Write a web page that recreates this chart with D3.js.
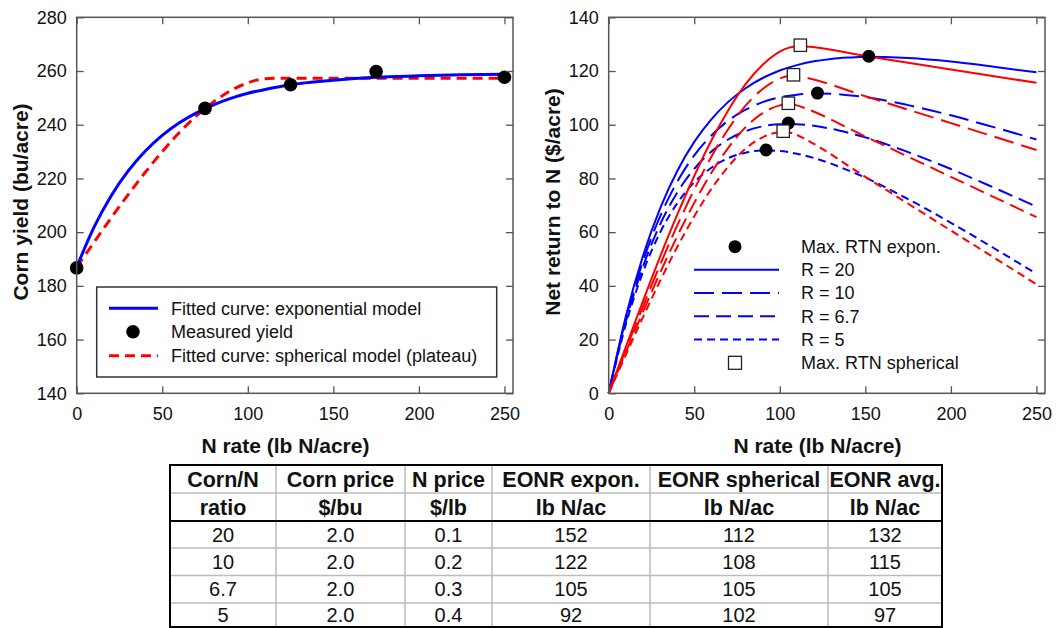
<!DOCTYPE html>
<meta charset="utf-8">
<script src="https://d3js.org/d3.v7.min.js"></script>
<style>
    body { margin: 0; background: #fff; }
    svg { display: block; font-family: "Liberation Sans", Arial, sans-serif; }
    .axis path { display: none; }
    .axis line { stroke: #555; stroke-width: 1.3; }
    .axis text { font-size: 18px; fill: #111; }
    .title { font-size: 21px; font-weight: bold; fill: #111; }
    .leg { font-size: 18px; fill: #111; }
</style>
<body>
<svg width="1061" height="628"></svg>

<script>
    // left panel: measured yield and the two fitted curves
    const nMeasured = [0, 75, 125, 175, 250];
    const yieldMeasured = [186.7, 246.1, 254.9, 259.8, 257.7];

    const nExp = [0, 10, 20, 30, 40, 50, 60, 70, 80, 90, 100, 110, 120, 130, 140, 150, 175, 200, 225, 250];
    const yieldExp = [187, 201.7, 213.4, 222.7, 230.1, 236.0, 240.7, 244.4, 247.4, 249.8, 251.7, 253.1, 254.3, 255.3, 256.0, 256.6, 257.7, 258.2, 258.6, 258.8];

    const nSph = [0, 10, 20, 30, 40, 50, 60, 70, 80, 90, 100, 105, 110, 115, 150, 200, 250];
    const yieldSph = [187, 196.1, 205.2, 213.9, 222.2, 230.0, 237.1, 243.3, 248.5, 252.7, 255.6, 256.6, 257.1, 257.3, 257.3, 257.3, 257.3];

    // right panel: net return to N, exponential model
    const rtnExp20 = [0, 28.6, 51.1, 68.8, 82.7, 93.6, 102.0, 108.6, 113.6, 117.4, 120.2, 122.2, 123.6, 124.5, 125.0, 125.3, 124.8, 123.5, 121.6, 119.5];
    const rtnExp10 = [0, 27.6, 49.1, 65.8, 78.7, 88.6, 96.0, 101.6, 105.6, 108.4, 110.2, 111.2, 111.6, 111.5, 111.0, 110.3, 107.3, 103.5, 99.1, 94.5];
    const rtnExp67 = [0, 26.6, 47.1, 62.8, 74.7, 83.6, 90.0, 94.6, 97.6, 99.4, 100.2, 100.2, 99.6, 98.5, 97.0, 95.3, 89.8, 83.5, 76.6, 69.5];
    const rtnExp5 = [0, 25.6, 45.1, 59.8, 70.7, 78.6, 84.0, 87.6, 89.6, 90.4, 90.2, 89.2, 87.6, 85.5, 83.0, 80.3, 72.3, 63.5, 54.1, 44.5];

    // right panel: net return to N, spherical model
    const rtnSph20 = [0, 17.3, 34.3, 50.8, 66.4, 80.9, 94.1, 105.5, 115.1, 122.3, 127.2, 128.6, 129.2, 129.1, 125.6, 120.6, 115.6];
    const rtnSph10 = [0, 16.3, 32.3, 47.8, 62.4, 75.9, 88.1, 98.5, 107.1, 113.3, 117.2, 118.1, 118.2, 117.6, 110.6, 100.6, 90.6];
    const rtnSph67 = [0, 15.3, 30.3, 44.8, 58.4, 70.9, 82.1, 91.5, 99.1, 104.3, 107.2, 107.6, 107.2, 106.1, 95.6, 80.6, 65.6];
    const rtnSph5 = [0, 14.3, 28.3, 41.8, 54.4, 65.9, 76.1, 84.5, 91.1, 95.3, 97.2, 97.1, 96.2, 94.6, 80.6, 60.6, 40.6];

    // maxima
    const eonrExp = [152, 122, 105, 92];
    const maxRtnExp = [125.5, 111.8, 100.6, 90.6];
    const eonrSph = [112, 108, 105, 102];
    const maxRtnSph = [129.6, 118.6, 108.0, 97.6];

    // table
    const ratioLabels = ['20', '10', '6.7', '5'];
    const cornPrice = ['2.0', '2.0', '2.0', '2.0'];
    const nPrice = ['0.1', '0.2', '0.3', '0.4'];
    const eonrAvg = [132, 115, 105, 97];
    const headTop = ['Corn/N', 'Corn price', 'N price', 'EONR expon.', 'EONR spherical', 'EONR avg.'];
    const headBottom = ['ratio', '$/bu', '$/lb', 'lb N/ac', 'lb N/ac', 'lb N/ac'];

    const xTicks = [0, 50, 100, 150, 200, 250];

    const svg = d3.select('svg');

    function frame(x, y, yTicks, yTitle, yTitleX) {
        const [xa, xb] = x.range(), [yb, ya] = y.range();
        svg.append('g').attr('class', 'axis')
            .attr('transform', 'translate(0,' + yb + ')')
            .call(d3.axisBottom(x).tickValues(xTicks).tickSizeInner(-7).tickSizeOuter(0).tickPadding(14));
        svg.append('g').attr('class', 'axis')
            .attr('transform', 'translate(0,' + ya + ')')
            .call(d3.axisTop(x).tickValues(xTicks).tickSizeInner(-7).tickSizeOuter(0).tickFormat(''));
        svg.append('g').attr('class', 'axis')
            .attr('transform', 'translate(' + xa + ',0)')
            .call(d3.axisLeft(y).tickValues(yTicks).tickSizeInner(-7).tickSizeOuter(0).tickPadding(10));
        svg.append('g').attr('class', 'axis')
            .attr('transform', 'translate(' + xb + ',0)')
            .call(d3.axisRight(y).tickValues(yTicks).tickSizeInner(-7).tickSizeOuter(0).tickFormat(''));
        svg.append('rect')
            .attr('x', xa).attr('y', ya)
            .attr('width', xb - xa).attr('height', yb - ya)
            .attr('fill', 'none').attr('stroke', '#555').attr('stroke-width', 1.5);

        svg.append('text').attr('class', 'title')
            .attr('x', x(122)).attr('y', 453)
            .attr('text-anchor', 'middle')
            .text('N rate (lb N/acre)');
        svg.append('text').attr('class', 'title')
            .attr('transform', 'translate(' + yTitleX + ',202) rotate(-90)')
            .attr('dy', '0.35em')
            .attr('text-anchor', 'middle')
            .text(yTitle);
    }

    function curve(x, y, xs, ys, color, width, dash) {
        const line = d3.line()
            .x((d, i) => x(xs[i]))
            .y(d => y(d))
            .curve(d3.curveMonotoneX);
        svg.append('path')
            .datum(ys)
            .attr('d', line)
            .attr('fill', 'none')
            .attr('stroke', color)
            .attr('stroke-width', width)
            .attr('stroke-dasharray', dash);
    }

    // ---------- left panel ----------
    const xL = d3.scaleLinear().domain([0, 255]).range([76.7, 513]);
    const yL = d3.scaleLinear().domain([140, 280]).range([393.3, 17.3]);

    curve(xL, yL, nSph, yieldSph, '#ff0000', 3, '10,6');
    curve(xL, yL, nExp, yieldExp, '#0000ff', 3, null);

    svg.append('g').selectAll('circle')
        .data(yieldMeasured)
        .enter().append('circle')
        .attr('cx', (d, i) => xL(nMeasured[i]))
        .attr('cy', d => yL(d))
        .attr('r', 6.8)
        .attr('fill', '#000');

    frame(xL, yL, d3.range(140, 281, 20), 'Corn yield (bu/acre)', 21);

    const legL = svg.append('g');
    legL.append('rect')
        .attr('x', 96.7).attr('y', 287)
        .attr('width', 400).attr('height', 90)
        .attr('fill', '#fff').attr('stroke', '#333').attr('stroke-width', 1.5);
    legL.append('line').attr('x1', 109).attr('x2', 158).attr('y1', 308.3).attr('y2', 308.3)
        .attr('stroke', '#0000ff').attr('stroke-width', 3);
    legL.append('circle').attr('cx', 133).attr('cy', 331.7).attr('r', 6.8).attr('fill', '#000');
    legL.append('line').attr('x1', 109).attr('x2', 158).attr('y1', 355.7).attr('y2', 355.7)
        .attr('stroke', '#ff0000').attr('stroke-width', 3).attr('stroke-dasharray', '10,6');
    [['Fitted curve: exponential model', 308.3],
     ['Measured yield', 331.7],
     ['Fitted curve: spherical model (plateau)', 355.7]].forEach(([t, yy]) => {
        legL.append('text').attr('class', 'leg')
            .attr('x', 171).attr('y', yy).attr('dy', '0.36em').text(t);
    });

    // ---------- right panel ----------
    const xR = d3.scaleLinear().domain([0, 255]).range([608.7, 1045]);
    const yR = d3.scaleLinear().domain([0, 140]).range([393.3, 17.3]);

    const dashes = [null, '20,8', '15,7', '8,5'];
    [rtnExp20, rtnExp10, rtnExp67, rtnExp5].forEach((s, i) =>
        curve(xR, yR, nExp, s, '#0000ff', 2, dashes[i]));
    [rtnSph20, rtnSph10, rtnSph67, rtnSph5].forEach((s, i) =>
        curve(xR, yR, nSph, s, '#ff0000', 2, dashes[i]));

    svg.append('g').selectAll('circle')
        .data(maxRtnExp)
        .enter().append('circle')
        .attr('cx', (d, i) => xR(eonrExp[i]))
        .attr('cy', d => yR(d))
        .attr('r', 6.5)
        .attr('fill', '#000');

    svg.append('g').selectAll('rect')
        .data(maxRtnSph)
        .enter().append('rect')
        .attr('x', (d, i) => xR(eonrSph[i]) - 6.2)
        .attr('y', d => yR(d) - 6.2)
        .attr('width', 12.4).attr('height', 12.4)
        .attr('fill', '#fff').attr('stroke', '#222').attr('stroke-width', 1.3);

    frame(xR, yR, d3.range(0, 141, 20), 'Net return to N ($/acre)', 553);

    const legR = svg.append('g');
    const legRows = [246.7, 269.8, 293, 316.2, 339.4, 362.8];
    legR.append('circle').attr('cx', 735).attr('cy', legRows[0]).attr('r', 6.5).attr('fill', '#000');
    dashes.forEach((d, i) => {
        legR.append('line').attr('x1', 694).attr('x2', 779)
            .attr('y1', legRows[i + 1]).attr('y2', legRows[i + 1])
            .attr('stroke', '#0000ff').attr('stroke-width', 2).attr('stroke-dasharray', d);
    });
    legR.append('rect').attr('x', 728.5).attr('y', legRows[5] - 6.5)
        .attr('width', 13).attr('height', 13)
        .attr('fill', '#fff').attr('stroke', '#222').attr('stroke-width', 1.3);
    ['Max. RTN expon.', 'R = 20', 'R = 10', 'R = 6.7', 'R = 5', 'Max. RTN spherical'].forEach((t, i) => {
        legR.append('text').attr('class', 'leg')
            .attr('x', 801).attr('y', legRows[i]).attr('dy', '0.36em').text(t);
    });

    // ---------- table ----------
    const colX = [170, 276, 405, 492, 650, 828, 942];
    const rowY = [465, 493, 521, 548, 575.5, 603, 630];
    const tbl = svg.append('g');
    const mid = i => (colX[i] + colX[i + 1]) / 2;

    colX.slice(1, -1).forEach(x => {
        tbl.append('line').attr('x1', x).attr('x2', x).attr('y1', rowY[0]).attr('y2', 628)
            .attr('stroke', '#bbb').attr('stroke-width', 1.5);
    });
    [rowY[1], rowY[3], rowY[4], rowY[5]].forEach(y => {
        tbl.append('line').attr('x1', colX[0]).attr('x2', colX[6]).attr('y1', y).attr('y2', y)
            .attr('stroke', '#bbb').attr('stroke-width', 1.5);
    });
    tbl.append('line').attr('x1', colX[0]).attr('x2', colX[6]).attr('y1', rowY[2]).attr('y2', rowY[2])
        .attr('stroke', '#000').attr('stroke-width', 2.2);
    tbl.append('rect').attr('x', colX[0]).attr('y', rowY[0])
        .attr('width', colX[6] - colX[0]).attr('height', 627 - rowY[0])
        .attr('fill', 'none').attr('stroke', '#000').attr('stroke-width', 2);

    [headTop, headBottom].forEach((row, r) => {
        row.forEach((t, i) => {
            tbl.append('text')
                .attr('x', mid(i)).attr('y', (rowY[r] + rowY[r + 1]) / 2)
                .attr('dy', '0.36em').attr('text-anchor', 'middle')
                .attr('font-size', 21.5).attr('font-weight', 'bold').attr('fill', '#111')
                .text(t);
        });
    });

    ratioLabels.forEach((r, k) => {
        const cells = [r, cornPrice[k], nPrice[k], eonrExp[k], eonrSph[k], eonrAvg[k]];
        const cy = (rowY[k + 2] + rowY[k + 3]) / 2 + (k === 3 ? -1.5 : 0);
        cells.forEach((t, i) => {
            tbl.append('text')
                .attr('x', mid(i)).attr('y', cy)
                .attr('dy', '0.36em').attr('text-anchor', 'middle')
                .attr('font-size', 20).attr('fill', '#111')
                .text(t);
        });
    });
</script>
</body>
